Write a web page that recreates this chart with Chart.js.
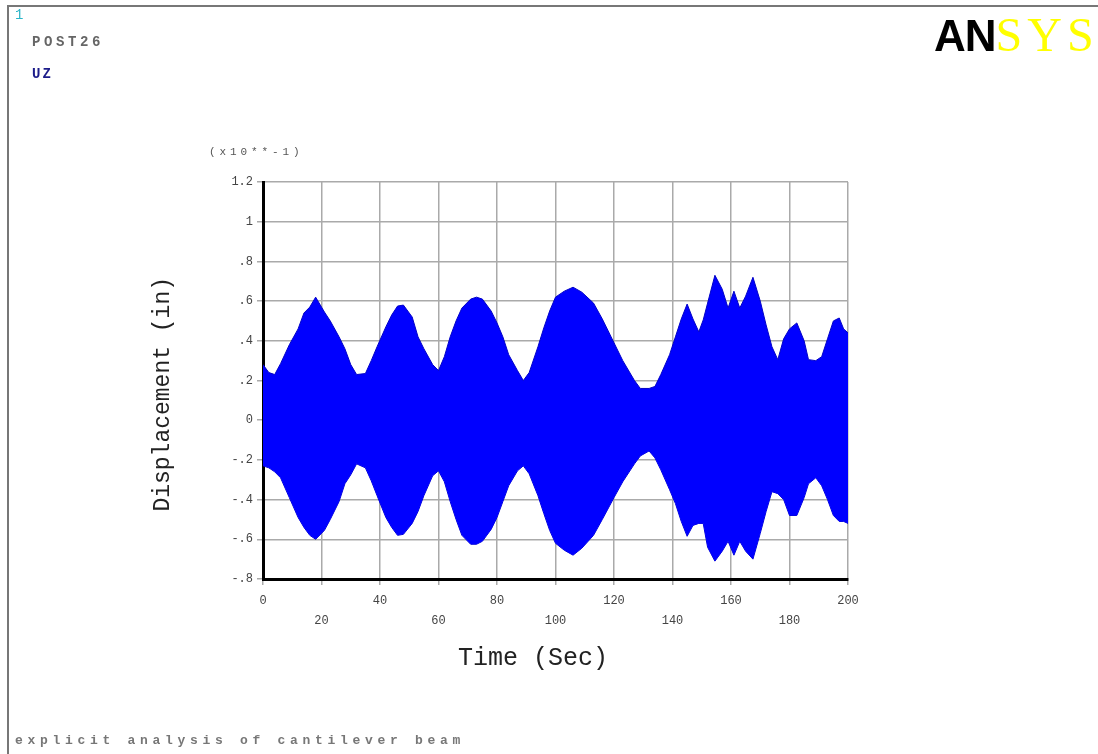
<!DOCTYPE html>
<html>
<head>
<meta charset="utf-8">
<script src="https://cdn.jsdelivr.net/npm/chart.js@4.4.1/dist/chart.umd.min.js"></script>
<style>
  html, body { margin: 0; padding: 0; background: #fff; }
  #wrap { position: relative; width: 1098px; height: 754px; overflow: hidden; }
  #frame { position: absolute; left: 7px; top: 5px; width: 1200px; height: 800px;
           border-left: 2px solid #777; border-top: 2px solid #777; }
  canvas { position: absolute; left: 0; top: 0; }
  .txt { position: absolute; font-family: "Liberation Mono", "DejaVu Sans Mono", monospace; white-space: pre; }
</style>
</head>
<body>
<div id="wrap">
  <div id="frame"></div>
  <canvas id="chart" width="1098" height="754"></canvas>
  <div class="txt" style="left:15px;top:7px;font-size:14px;color:#2bb5c8;">1</div>
  <div class="txt" style="left:32px;top:34px;font-size:14px;font-weight:bold;letter-spacing:3.6px;color:#666;">POST26</div>
  <div class="txt" style="left:32px;top:66px;font-size:14px;font-weight:bold;letter-spacing:2px;color:#1c1c8a;">UZ</div>
  <div class="txt" style="left:934px;top:7px;font-size:44px;font-family:'Liberation Sans',Arial,sans-serif;font-weight:bold;letter-spacing:-1px;"><span style="color:#000;">AN</span><span style="color:#ffff00;font-family:'Liberation Serif',serif;font-weight:normal;letter-spacing:5px;font-size:48px;">SYS</span></div>
  <div class="txt" style="left:209px;top:146px;font-size:11px;letter-spacing:3.9px;color:#555;">(x10**-1)</div>
  <div class="txt" style="left:15px;top:733px;font-size:13px;font-weight:bold;letter-spacing:4.7px;color:#777;">explicit analysis of cantilever beam</div>
</div>
<script>
// time (sec) and envelope of UZ displacement (x10**-1 in)
const time = [0, 2, 4, 6, 9, 12, 14, 16, 18, 21, 23, 26, 28, 30, 32, 35, 37, 39, 42, 44,
  46, 48, 51, 53, 55, 58, 60, 62, 64, 66, 68, 71, 73, 75, 78, 80, 82, 84, 87, 89,
  91, 94, 96, 98, 100, 103, 106, 109, 113, 116, 120, 123, 127, 129, 132, 134, 136, 139, 141, 143,
  145, 147, 149, 150.5, 152, 154.5, 157, 159, 161, 163, 165, 167.5, 170, 172, 174, 176, 178, 180, 182.5, 185,
  186.5, 189, 191, 193, 195, 197, 198.5, 200];

const upper = [0.28, 0.24, 0.23, 0.285, 0.38, 0.46, 0.54, 0.57, 0.62, 0.545, 0.50, 0.42, 0.36, 0.28, 0.23, 0.235, 0.30, 0.37, 0.47, 0.53,
  0.575, 0.58, 0.52, 0.42, 0.36, 0.28, 0.25, 0.32, 0.42, 0.50, 0.565, 0.61, 0.62, 0.61, 0.55, 0.49, 0.42, 0.33, 0.25, 0.20,
  0.24, 0.37, 0.465, 0.55, 0.62, 0.65, 0.67, 0.645, 0.59, 0.51, 0.39, 0.30, 0.20, 0.16, 0.16, 0.17, 0.23, 0.33, 0.42, 0.51,
  0.585, 0.51, 0.445, 0.505, 0.59, 0.73, 0.66, 0.565, 0.65, 0.565, 0.625, 0.72, 0.60, 0.48, 0.37, 0.305, 0.41, 0.46, 0.49, 0.40,
  0.305, 0.30, 0.32, 0.41, 0.50, 0.515, 0.46, 0.44];

const lower = [-0.23, -0.24, -0.26, -0.29, -0.39, -0.49, -0.54, -0.58, -0.60, -0.555, -0.50, -0.41, -0.32, -0.275, -0.22, -0.24, -0.305, -0.38, -0.49, -0.54,
  -0.58, -0.575, -0.52, -0.46, -0.38, -0.28, -0.255, -0.31, -0.41, -0.50, -0.58, -0.625, -0.625, -0.61, -0.55, -0.49, -0.41, -0.33, -0.255, -0.23,
  -0.27, -0.38, -0.47, -0.555, -0.62, -0.655, -0.68, -0.645, -0.58, -0.50, -0.39, -0.31, -0.22, -0.18, -0.155, -0.19, -0.25, -0.35, -0.42, -0.51,
  -0.585, -0.53, -0.52, -0.52, -0.64, -0.71, -0.66, -0.61, -0.68, -0.61, -0.66, -0.70, -0.57, -0.46, -0.36, -0.37, -0.40, -0.48, -0.48, -0.39,
  -0.32, -0.29, -0.33, -0.40, -0.48, -0.51, -0.51, -0.52];

const xMin = 0, xMax = 200, xStep = 20;
const yMin = -0.8, yMax = 1.2, yStep = 0.2;

const BLUE = "#0000ff";
const EDGE = "#0000c8";
const GRID = "#aaaaaa";
const MONO = "'Liberation Mono', 'DejaVu Sans Mono', monospace";

function pts(ys) {
  return time.map((t, i) => ({ x: t, y: ys[i] }));
}

function yLabel(v) {
  let r = Math.round(v * 10) / 10;
  if (r === 0) return "0";
  return String(r).replace("0.", ".");
}

new Chart(document.getElementById("chart"), {
  type: "line",
  data: {
    datasets: [
      {
        data: pts(upper),
        borderColor: EDGE,
        backgroundColor: BLUE,
        borderWidth: 1,
        pointRadius: 0,
        tension: 0,
        fill: "+1",
      },
      {
        data: pts(lower),
        borderColor: EDGE,
        backgroundColor: BLUE,
        borderWidth: 1,
        pointRadius: 0,
        tension: 0,
        fill: false,
      },
    ],
  },
  options: {
    responsive: false,
    animation: false,
    layout: { padding: { left: 145, top: 182, right: 250, bottom: 77 } },
    plugins: { legend: { display: false }, tooltip: { enabled: false } },
    scales: {
      x: {
        type: "linear",
        min: xMin,
        max: xMax,
        afterFit: (s) => { s.height = 98; },
        ticks: {
          stepSize: xStep,
          autoSkip: false,
          maxRotation: 0,
          padding: 6,
          color: "#444",
          font: { family: MONO, size: 12, lineHeight: 1.65 },
          callback: (v, i) => (i % 2 === 0 ? String(v) : ["", String(v)]),
        },
        grid: { color: GRID, lineWidth: 1.5, tickLength: 6, tickColor: GRID },
        border: { color: "#000", width: 3 },
        title: { display: true, text: "Time (Sec)   ", color: "#222", font: { family: MONO, size: 25 } },
      },
      y: {
        min: yMin,
        max: yMax,
        afterFit: (s) => { s.width = 118; },
        ticks: {
          stepSize: yStep,
          padding: 4,
          color: "#444",
          font: { family: MONO, size: 12 },
          callback: (v) => yLabel(v),
        },
        grid: { color: GRID, lineWidth: 1.5, tickLength: 6, tickColor: GRID },
        border: { color: "#000", width: 3 },
        title: { display: true, text: "Displacement (in)  ", color: "#222", font: { family: MONO, size: 23 } },
      },
    },
  },
});
</script>
</body>
</html>
